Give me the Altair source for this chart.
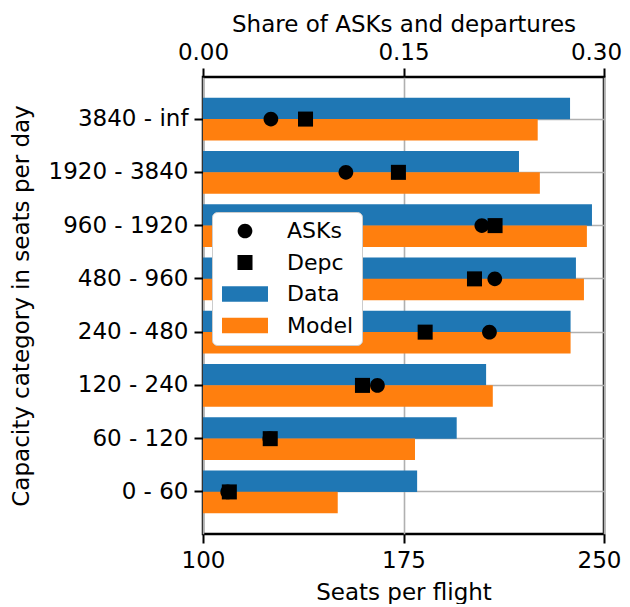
import altair as alt
import pandas as pd

categories = ["3840 - inf", "1920 - 3840", "960 - 1920", "480 - 960",
              "240 - 480", "120 - 240", "60 - 120", "0 - 60"]
data_seats = [237.3, 218.2, 245.5, 239.5, 237.5, 205.9, 194.9, 180.1]
model_seats = [225.2, 226.0, 243.6, 242.5, 237.5, 208.4, 179.3, 150.4]
ask_share = [0.0508, 0.1069, 0.2086, 0.2183, 0.2143, 0.1305, 0.0500, 0.0185]
depc_share = [0.0767, 0.1462, 0.2185, 0.2031, 0.1662, 0.1193, 0.0503, 0.0197]

legend_keys = ["ASKs", "Depc", "Data", "Model"]
legend_colors = ["black", "black", "#1f77b4", "#ff7f0e"]
circle_path = "M0,-0.96A0.96,0.96 0 1,1 0,0.96A0.96,0.96 0 1,1 0,-0.96Z"
square_path = "M-0.98,-0.98H0.98V0.98H-0.98Z"
rect_path = "M-3,-1.02H3V1.02H-3Z"
legend_shapes = [circle_path, square_path, rect_path, rect_path]

bars_df = pd.DataFrame(
    {"category": categories * 2,
     "key": ["Data"] * len(categories) + ["Model"] * len(categories),
     "seats": data_seats + model_seats})
points_df = pd.DataFrame(
    {"category": categories * 2,
     "key": ["ASKs"] * len(categories) + ["Depc"] * len(categories),
     "share": ask_share + depc_share})

y_enc = alt.Y("category:N", sort=categories,
              scale=alt.Scale(domain=categories, paddingInner=0.2, paddingOuter=0.39),
              axis=alt.Axis(title="Capacity category in seats per day", grid=True,
                            bandPosition=0.5, titlePadding=15))

leg = alt.Legend(title=None, orient="none", legendX=9, legendY=135)
color_enc = alt.Color("key:N", scale=alt.Scale(domain=legend_keys, range=legend_colors), legend=leg)

bars = alt.Chart(bars_df).mark_bar(size=21.4).encode(
    x=alt.X("seats:Q", scale=alt.Scale(domain=[100, 250], nice=False, zero=False),
            axis=alt.Axis(values=[100, 175, 250], title="Seats per flight", orient="bottom",
                          grid=True, labelFlush=False, titlePadding=9,
                          labelOffset={"condition": {"test": "datum.value == 250", "value": -5}, "value": 0})),
    x2=alt.datum(100),
    y=y_enc,
    yOffset=alt.YOffset("key:N", scale=alt.Scale(domain=["Data", "Model"], paddingInner=0, paddingOuter=0)),
    color=color_enc,
)

points = alt.Chart(points_df).mark_point(filled=True, size=235, opacity=1, strokeWidth=0).encode(
    x=alt.X("share:Q", scale=alt.Scale(domain=[0, 0.3], nice=False),
            axis=alt.Axis(values=[0, 0.15, 0.3], format=".2f", orient="top", grid=False,
                          title="Share of ASKs and departures", labelFlush=False,
                          labelPadding=4, titlePadding=5,
                          labelOffset={"condition": {"test": "datum.value == 0.3", "value": -8}, "value": 0})),
    y=y_enc,
    color=color_enc,
    shape=alt.Shape("key:N", scale=alt.Scale(domain=legend_keys, range=legend_shapes), legend=leg),
)

chart = alt.layer(bars, points).resolve_scale(x="independent").properties(
    width=401, height=457,
    autosize=alt.AutoSizeParams(type="none"),
    padding={"left": 195, "top": 69, "right": 18, "bottom": 70},
).configure_axis(
    labelFont="DejaVu Sans", labelFontSize=23, labelColor="black",
    titleFont="DejaVu Sans", titleFontSize=23, titleFontWeight="normal", titleColor="black",
    tickColor="black", tickWidth=2, tickSize=9, labelPadding=6,
    domain=False, gridColor="#b0b0b0", gridWidth=1.6,
).configure_view(
    stroke="black", strokeWidth=2.5,
).configure_legend(
    labelFont="DejaVu Sans", labelFontSize=22, labelColor="black",
    symbolSize=235, symbolStrokeWidth=0, symbolOpacity=1,
    fillColor="white", strokeColor="#cccccc", cornerRadius=5, padding=8,
    rowPadding=9.5, symbolOffset=14, labelOffset=31,
)

chart.save("out.html", embed_options={"renderer": "svg", "actions": False})
